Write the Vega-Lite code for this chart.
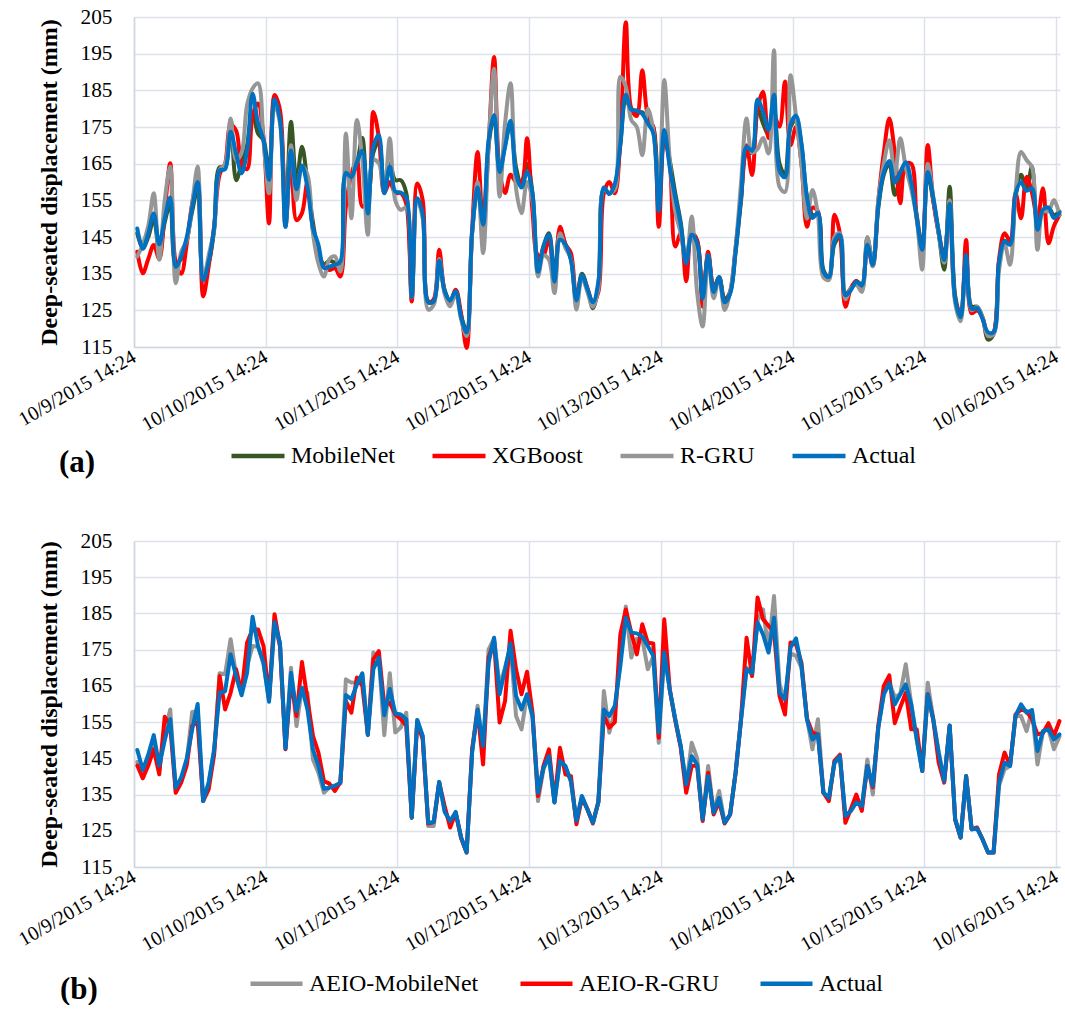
{
"$schema": "https://vega.github.io/schema/vega-lite/v6.json",
"background": "white",
"padding": {"left": 14, "top": 6, "right": 3, "bottom": 0},
"spacing": 52,
"config": {
  "font": "Liberation Serif",
  "view": {"stroke": null},
  "axis": {"labelFont": "Liberation Serif", "titleFont": "Liberation Serif", "labelColor": "black", "titleColor": "black", "gridColor": "#DCE1EA", "gridWidth": 1.5, "domainColor": "#CFD6E0", "domainWidth": 1.5, "ticks": false},
  "legend": {"labelFont": "Liberation Serif", "titleFont": "Liberation Serif", "labelColor": "black", "titleColor": "black", "labelLimit": 400}
},
"resolve": {"scale": {"color": "independent"}, "legend": {"color": "independent"}},
"datasets": {"d": [
{"t":"2015-10-09T15:00","Actual":147.3,"MobileNet":146,"XGBoost":141,"R-GRU":139.7,"AEIO-MobileNet":144,"AEIO-R-GRU":143},
{"t":"2015-10-09T16:00","Actual":141.8,"MobileNet":142,"XGBoost":135.1,"R-GRU":143,"AEIO-MobileNet":139.5,"AEIO-R-GRU":139.5},
{"t":"2015-10-09T17:00","Actual":146,"MobileNet":145,"XGBoost":139,"R-GRU":148,"AEIO-MobileNet":144,"AEIO-R-GRU":143},
{"t":"2015-10-09T18:00","Actual":151.4,"MobileNet":150,"XGBoost":142.8,"R-GRU":156.9,"AEIO-MobileNet":149,"AEIO-R-GRU":147.5},
{"t":"2015-10-09T19:00","Actual":143,"MobileNet":141,"XGBoost":139,"R-GRU":138.8,"AEIO-MobileNet":142,"AEIO-R-GRU":140.6},
{"t":"2015-10-09T20:00","Actual":150,"MobileNet":149,"XGBoost":152,"R-GRU":155,"AEIO-MobileNet":152,"AEIO-R-GRU":156.5},
{"t":"2015-10-09T21:00","Actual":155.8,"MobileNet":154,"XGBoost":165.1,"R-GRU":164.2,"AEIO-MobileNet":158.5,"AEIO-R-GRU":154},
{"t":"2015-10-09T22:00","Actual":136.9,"MobileNet":138,"XGBoost":138,"R-GRU":132.4,"AEIO-MobileNet":136,"AEIO-R-GRU":135.5},
{"t":"2015-10-09T23:00","Actual":139.7,"MobileNet":139,"XGBoost":135,"R-GRU":141,"AEIO-MobileNet":139.5,"AEIO-R-GRU":138.3},
{"t":"2015-10-10T00:00","Actual":144.9,"MobileNet":144,"XGBoost":143,"R-GRU":144,"AEIO-MobileNet":144,"AEIO-R-GRU":143},
{"t":"2015-10-10T01:00","Actual":153,"MobileNet":152,"XGBoost":154.2,"R-GRU":154,"AEIO-MobileNet":157.8,"AEIO-R-GRU":154},
{"t":"2015-10-10T02:00","Actual":160,"MobileNet":158,"XGBoost":160.5,"R-GRU":164.2,"AEIO-MobileNet":158,"AEIO-R-GRU":155},
{"t":"2015-10-10T03:00","Actual":133.2,"MobileNet":135,"XGBoost":128.8,"R-GRU":133.3,"AEIO-MobileNet":133.5,"AEIO-R-GRU":133.2},
{"t":"2015-10-10T04:00","Actual":138.3,"MobileNet":138,"XGBoost":137,"R-GRU":140,"AEIO-MobileNet":138,"AEIO-R-GRU":136.4},
{"t":"2015-10-10T05:00","Actual":147.5,"MobileNet":147,"XGBoost":148,"R-GRU":147,"AEIO-MobileNet":147,"AEIO-R-GRU":146},
{"t":"2015-10-10T06:00","Actual":163.1,"MobileNet":164,"XGBoost":162,"R-GRU":163.3,"AEIO-MobileNet":168.5,"AEIO-R-GRU":167.7},
{"t":"2015-10-10T07:00","Actual":163.5,"MobileNet":164,"XGBoost":165,"R-GRU":165,"AEIO-MobileNet":168.2,"AEIO-R-GRU":158.5},
{"t":"2015-10-10T08:00","Actual":173.7,"MobileNet":177,"XGBoost":175.5,"R-GRU":177.3,"AEIO-MobileNet":177.9,"AEIO-R-GRU":163.1},
{"t":"2015-10-10T09:00","Actual":167.7,"MobileNet":160.5,"XGBoost":174,"R-GRU":166,"AEIO-MobileNet":168,"AEIO-R-GRU":169.6},
{"t":"2015-10-10T10:00","Actual":162.4,"MobileNet":165,"XGBoost":165,"R-GRU":168,"AEIO-MobileNet":163,"AEIO-R-GRU":163},
{"t":"2015-10-10T11:00","Actual":168.6,"MobileNet":170,"XGBoost":163.5,"R-GRU":181,"AEIO-MobileNet":170.5,"AEIO-R-GRU":176.9},
{"t":"2015-10-10T12:00","Actual":184.1,"MobileNet":179,"XGBoost":178,"R-GRU":185.5,"AEIO-MobileNet":176,"AEIO-R-GRU":180.6},
{"t":"2015-10-10T13:00","Actual":176,"MobileNet":173.2,"XGBoost":181.4,"R-GRU":186.9,"AEIO-MobileNet":175.8,"AEIO-R-GRU":180.6},
{"t":"2015-10-10T14:00","Actual":171.4,"MobileNet":171.4,"XGBoost":172,"R-GRU":171,"AEIO-MobileNet":171,"AEIO-R-GRU":176},
{"t":"2015-10-10T15:00","Actual":160.6,"MobileNet":162,"XGBoost":148.7,"R-GRU":156.9,"AEIO-MobileNet":161,"AEIO-R-GRU":161.3},
{"t":"2015-10-10T16:00","Actual":182.6,"MobileNet":181,"XGBoost":183.7,"R-GRU":181,"AEIO-MobileNet":182,"AEIO-R-GRU":184.8},
{"t":"2015-10-10T17:00","Actual":176.9,"MobileNet":177,"XGBoost":179.6,"R-GRU":176,"AEIO-MobileNet":176,"AEIO-R-GRU":176},
{"t":"2015-10-10T18:00","Actual":147.7,"MobileNet":150,"XGBoost":148,"R-GRU":148,"AEIO-MobileNet":148,"AEIO-R-GRU":147.5},
{"t":"2015-10-10T19:00","Actual":168.6,"MobileNet":176.4,"XGBoost":167,"R-GRU":170,"AEIO-MobileNet":170,"AEIO-R-GRU":166.8},
{"t":"2015-10-10T20:00","Actual":158,"MobileNet":160,"XGBoost":149.6,"R-GRU":155.1,"AEIO-MobileNet":153.9,"AEIO-R-GRU":156.7},
{"t":"2015-10-10T21:00","Actual":164.5,"MobileNet":169.6,"XGBoost":151.5,"R-GRU":164.2,"AEIO-MobileNet":164.5,"AEIO-R-GRU":171.6},
{"t":"2015-10-10T22:00","Actual":158.5,"MobileNet":160,"XGBoost":160,"R-GRU":162,"AEIO-MobileNet":163.1,"AEIO-R-GRU":161.3},
{"t":"2015-10-10T23:00","Actual":147.5,"MobileNet":149,"XGBoost":147,"R-GRU":146,"AEIO-MobileNet":144.7,"AEIO-R-GRU":151.2},
{"t":"2015-10-11T00:00","Actual":142.9,"MobileNet":141,"XGBoost":140.6,"R-GRU":137.8,"AEIO-MobileNet":141,"AEIO-R-GRU":146.6},
{"t":"2015-10-11T01:00","Actual":136.6,"MobileNet":137.5,"XGBoost":137,"R-GRU":134.2,"AEIO-MobileNet":135.5,"AEIO-R-GRU":138.7},
{"t":"2015-10-11T02:00","Actual":136.9,"MobileNet":138.5,"XGBoost":136,"R-GRU":139,"AEIO-MobileNet":137,"AEIO-R-GRU":138},
{"t":"2015-10-11T03:00","Actual":137.4,"MobileNet":138,"XGBoost":136.5,"R-GRU":139.7,"AEIO-MobileNet":137.5,"AEIO-R-GRU":136},
{"t":"2015-10-11T04:00","Actual":138.3,"MobileNet":137.5,"XGBoost":134.2,"R-GRU":135.6,"AEIO-MobileNet":138,"AEIO-R-GRU":138.5},
{"t":"2015-10-11T05:00","Actual":162.5,"MobileNet":162,"XGBoost":153.3,"R-GRU":173.2,"AEIO-MobileNet":166.8,"AEIO-R-GRU":160.8},
{"t":"2015-10-11T06:00","Actual":161.3,"MobileNet":162,"XGBoost":162,"R-GRU":150.1,"AEIO-MobileNet":165.9,"AEIO-R-GRU":157.6},
{"t":"2015-10-11T07:00","Actual":165.4,"MobileNet":165,"XGBoost":166,"R-GRU":176.9,"AEIO-MobileNet":166,"AEIO-R-GRU":167.3},
{"t":"2015-10-11T08:00","Actual":168.5,"MobileNet":172,"XGBoost":153.3,"R-GRU":166,"AEIO-MobileNet":168,"AEIO-R-GRU":165},
{"t":"2015-10-11T09:00","Actual":151.4,"MobileNet":153,"XGBoost":155,"R-GRU":145.6,"AEIO-MobileNet":151.6,"AEIO-R-GRU":151.6},
{"t":"2015-10-11T10:00","Actual":169.6,"MobileNet":168,"XGBoost":179.1,"R-GRU":166,"AEIO-MobileNet":174.2,"AEIO-R-GRU":172.3},
{"t":"2015-10-11T11:00","Actual":172.8,"MobileNet":171,"XGBoost":172.3,"R-GRU":165.1,"AEIO-MobileNet":173,"AEIO-R-GRU":174.6},
{"t":"2015-10-11T12:00","Actual":156.9,"MobileNet":158,"XGBoost":157,"R-GRU":157,"AEIO-MobileNet":151.4,"AEIO-R-GRU":159.5},
{"t":"2015-10-11T13:00","Actual":164.2,"MobileNet":165,"XGBoost":160,"R-GRU":171.9,"AEIO-MobileNet":168.5,"AEIO-R-GRU":160.4},
{"t":"2015-10-11T14:00","Actual":157.4,"MobileNet":160.5,"XGBoost":157,"R-GRU":155,"AEIO-MobileNet":152.1,"AEIO-R-GRU":157.1},
{"t":"2015-10-11T15:00","Actual":157.1,"MobileNet":160.5,"XGBoost":157,"R-GRU":152.4,"AEIO-MobileNet":153.5,"AEIO-R-GRU":155.8},
{"t":"2015-10-11T16:00","Actual":155.8,"MobileNet":157,"XGBoost":154,"R-GRU":153,"AEIO-MobileNet":157.6,"AEIO-R-GRU":154},
{"t":"2015-10-11T17:00","Actual":128.6,"MobileNet":129.5,"XGBoost":127.4,"R-GRU":128.5,"AEIO-MobileNet":128.6,"AEIO-R-GRU":128.6},
{"t":"2015-10-11T18:00","Actual":155.6,"MobileNet":155,"XGBoost":159.6,"R-GRU":155,"AEIO-MobileNet":155.6,"AEIO-R-GRU":154.9},
{"t":"2015-10-11T19:00","Actual":151.2,"MobileNet":151,"XGBoost":155,"R-GRU":150,"AEIO-MobileNet":151,"AEIO-R-GRU":150.2},
{"t":"2015-10-11T20:00","Actual":127.2,"MobileNet":127.5,"XGBoost":127.1,"R-GRU":125.2,"AEIO-MobileNet":126.3,"AEIO-R-GRU":127},
{"t":"2015-10-11T21:00","Actual":127.4,"MobileNet":127.5,"XGBoost":128,"R-GRU":126.5,"AEIO-MobileNet":126.3,"AEIO-R-GRU":127.4},
{"t":"2015-10-11T22:00","Actual":138.5,"MobileNet":138,"XGBoost":141.5,"R-GRU":139,"AEIO-MobileNet":138.5,"AEIO-R-GRU":138.3},
{"t":"2015-10-11T23:00","Actual":130.2,"MobileNet":130.5,"XGBoost":130,"R-GRU":129.5,"AEIO-MobileNet":130.5,"AEIO-R-GRU":131.8},
{"t":"2015-10-12T00:00","Actual":127.7,"MobileNet":127.5,"XGBoost":127,"R-GRU":126.1,"AEIO-MobileNet":127.5,"AEIO-R-GRU":125.9},
{"t":"2015-10-12T01:00","Actual":130.2,"MobileNet":130.5,"XGBoost":130.6,"R-GRU":129.5,"AEIO-MobileNet":130,"AEIO-R-GRU":130},
{"t":"2015-10-12T02:00","Actual":123.1,"MobileNet":123.5,"XGBoost":124,"R-GRU":122.5,"AEIO-MobileNet":123,"AEIO-R-GRU":123},
{"t":"2015-10-12T03:00","Actual":119,"MobileNet":119.5,"XGBoost":114.7,"R-GRU":118,"AEIO-MobileNet":119,"AEIO-R-GRU":119},
{"t":"2015-10-12T04:00","Actual":146.6,"MobileNet":146,"XGBoost":147,"R-GRU":146,"AEIO-MobileNet":147,"AEIO-R-GRU":147.5},
{"t":"2015-10-12T05:00","Actual":158.5,"MobileNet":158,"XGBoost":168.2,"R-GRU":160,"AEIO-MobileNet":159.5,"AEIO-R-GRU":158.1},
{"t":"2015-10-12T06:00","Actual":148.4,"MobileNet":149,"XGBoost":148,"R-GRU":140.6,"AEIO-MobileNet":148,"AEIO-R-GRU":143.3},
{"t":"2015-10-12T07:00","Actual":171.4,"MobileNet":170,"XGBoost":170,"R-GRU":170,"AEIO-MobileNet":175.1,"AEIO-R-GRU":172.8},
{"t":"2015-10-12T08:00","Actual":178.3,"MobileNet":178,"XGBoost":194.1,"R-GRU":190.9,"AEIO-MobileNet":178,"AEIO-R-GRU":177.4},
{"t":"2015-10-12T09:00","Actual":162.7,"MobileNet":163,"XGBoost":163,"R-GRU":156,"AEIO-MobileNet":165,"AEIO-R-GRU":154.9},
{"t":"2015-10-12T10:00","Actual":169.6,"MobileNet":170,"XGBoost":157,"R-GRU":176,"AEIO-MobileNet":170,"AEIO-R-GRU":160.8},
{"t":"2015-10-12T11:00","Actual":176.7,"MobileNet":176,"XGBoost":162,"R-GRU":186.9,"AEIO-MobileNet":176,"AEIO-R-GRU":180.2},
{"t":"2015-10-12T12:00","Actual":162.2,"MobileNet":164,"XGBoost":160,"R-GRU":158.3,"AEIO-MobileNet":156.7,"AEIO-R-GRU":169.6},
{"t":"2015-10-12T13:00","Actual":158.5,"MobileNet":159,"XGBoost":160,"R-GRU":151.5,"AEIO-MobileNet":153,"AEIO-R-GRU":162.7},
{"t":"2015-10-12T14:00","Actual":162.7,"MobileNet":165,"XGBoost":171.9,"R-GRU":160,"AEIO-MobileNet":162.5,"AEIO-R-GRU":168.9},
{"t":"2015-10-12T15:00","Actual":156.7,"MobileNet":157,"XGBoost":152,"R-GRU":155,"AEIO-MobileNet":156.5,"AEIO-R-GRU":157.6},
{"t":"2015-10-12T16:00","Actual":135.5,"MobileNet":137,"XGBoost":140,"R-GRU":134.2,"AEIO-MobileNet":133.2,"AEIO-R-GRU":134.6},
{"t":"2015-10-12T17:00","Actual":142.4,"MobileNet":142.5,"XGBoost":140,"R-GRU":140,"AEIO-MobileNet":142,"AEIO-R-GRU":142.9},
{"t":"2015-10-12T18:00","Actual":145.6,"MobileNet":146,"XGBoost":145,"R-GRU":138.8,"AEIO-MobileNet":145.5,"AEIO-R-GRU":147.5},
{"t":"2015-10-12T19:00","Actual":132.8,"MobileNet":134,"XGBoost":131,"R-GRU":129.7,"AEIO-MobileNet":132.8,"AEIO-R-GRU":133},
{"t":"2015-10-12T20:00","Actual":144.3,"MobileNet":147,"XGBoost":147.8,"R-GRU":146,"AEIO-MobileNet":144.5,"AEIO-R-GRU":147.9},
{"t":"2015-10-12T21:00","Actual":142.9,"MobileNet":143,"XGBoost":143,"R-GRU":142,"AEIO-MobileNet":142.5,"AEIO-R-GRU":140.6},
{"t":"2015-10-12T22:00","Actual":138.7,"MobileNet":139,"XGBoost":140.6,"R-GRU":139,"AEIO-MobileNet":138.5,"AEIO-R-GRU":140.1},
{"t":"2015-10-12T23:00","Actual":127.7,"MobileNet":128,"XGBoost":128,"R-GRU":125.2,"AEIO-MobileNet":127.5,"AEIO-R-GRU":126.8},
{"t":"2015-10-13T00:00","Actual":134.6,"MobileNet":135,"XGBoost":134,"R-GRU":134,"AEIO-MobileNet":134.5,"AEIO-R-GRU":134},
{"t":"2015-10-13T01:00","Actual":130.9,"MobileNet":131,"XGBoost":131,"R-GRU":130,"AEIO-MobileNet":131,"AEIO-R-GRU":131},
{"t":"2015-10-13T02:00","Actual":127.2,"MobileNet":125.6,"XGBoost":127,"R-GRU":126,"AEIO-MobileNet":127.3,"AEIO-R-GRU":127},
{"t":"2015-10-13T03:00","Actual":132.8,"MobileNet":132,"XGBoost":130,"R-GRU":131,"AEIO-MobileNet":133,"AEIO-R-GRU":133},
{"t":"2015-10-13T04:00","Actual":158.5,"MobileNet":158,"XGBoost":157,"R-GRU":158,"AEIO-MobileNet":163.6,"AEIO-R-GRU":156.7},
{"t":"2015-10-13T05:00","Actual":156.7,"MobileNet":157,"XGBoost":160,"R-GRU":157,"AEIO-MobileNet":152.1,"AEIO-R-GRU":153.5},
{"t":"2015-10-13T06:00","Actual":159.5,"MobileNet":159,"XGBoost":156.9,"R-GRU":158,"AEIO-MobileNet":158,"AEIO-R-GRU":155},
{"t":"2015-10-13T07:00","Actual":170.5,"MobileNet":170,"XGBoost":172,"R-GRU":188.7,"AEIO-MobileNet":172,"AEIO-R-GRU":179.2},
{"t":"2015-10-13T08:00","Actual":183.8,"MobileNet":182,"XGBoost":203.6,"R-GRU":186,"AEIO-MobileNet":186.9,"AEIO-R-GRU":186.1},
{"t":"2015-10-13T09:00","Actual":179.7,"MobileNet":180,"XGBoost":180,"R-GRU":176.9,"AEIO-MobileNet":172.8,"AEIO-R-GRU":179.7},
{"t":"2015-10-13T10:00","Actual":179.5,"MobileNet":179,"XGBoost":178,"R-GRU":175,"AEIO-MobileNet":178,"AEIO-R-GRU":173.7},
{"t":"2015-10-13T11:00","Actual":178.6,"MobileNet":179,"XGBoost":190.5,"R-GRU":167.3,"AEIO-MobileNet":178,"AEIO-R-GRU":182},
{"t":"2015-10-13T12:00","Actual":176,"MobileNet":177,"XGBoost":178,"R-GRU":180,"AEIO-MobileNet":169.6,"AEIO-R-GRU":176.9},
{"t":"2015-10-13T13:00","Actual":173.3,"MobileNet":175,"XGBoost":175,"R-GRU":174,"AEIO-MobileNet":173,"AEIO-R-GRU":176.7},
{"t":"2015-10-13T14:00","Actual":152.1,"MobileNet":155,"XGBoost":147.8,"R-GRU":157,"AEIO-MobileNet":149.3,"AEIO-R-GRU":150.7},
{"t":"2015-10-13T15:00","Actual":174.2,"MobileNet":173,"XGBoost":172,"R-GRU":187.8,"AEIO-MobileNet":174,"AEIO-R-GRU":183.4},
{"t":"2015-10-13T16:00","Actual":164,"MobileNet":166,"XGBoost":165,"R-GRU":166,"AEIO-MobileNet":164,"AEIO-R-GRU":164},
{"t":"2015-10-13T17:00","Actual":155.8,"MobileNet":157,"XGBoost":142.4,"R-GRU":152,"AEIO-MobileNet":155.8,"AEIO-R-GRU":155.5},
{"t":"2015-10-13T18:00","Actual":148.4,"MobileNet":149,"XGBoost":146,"R-GRU":146,"AEIO-MobileNet":148.4,"AEIO-R-GRU":148},
{"t":"2015-10-13T19:00","Actual":137.8,"MobileNet":138,"XGBoost":132.9,"R-GRU":138,"AEIO-MobileNet":137.5,"AEIO-R-GRU":135.5},
{"t":"2015-10-13T20:00","Actual":145.6,"MobileNet":146,"XGBoost":146,"R-GRU":150.6,"AEIO-MobileNet":149.3,"AEIO-R-GRU":142.9},
{"t":"2015-10-13T21:00","Actual":143.3,"MobileNet":144,"XGBoost":144,"R-GRU":129.7,"AEIO-MobileNet":145,"AEIO-R-GRU":143},
{"t":"2015-10-13T22:00","Actual":128.2,"MobileNet":129,"XGBoost":126,"R-GRU":120.6,"AEIO-MobileNet":128,"AEIO-R-GRU":127.7},
{"t":"2015-10-13T23:00","Actual":140.1,"MobileNet":140,"XGBoost":141,"R-GRU":140,"AEIO-MobileNet":142.9,"AEIO-R-GRU":141},
{"t":"2015-10-14T00:00","Actual":130,"MobileNet":131,"XGBoost":131,"R-GRU":128.3,"AEIO-MobileNet":130,"AEIO-R-GRU":129.5},
{"t":"2015-10-14T01:00","Actual":134.1,"MobileNet":134,"XGBoost":134,"R-GRU":134,"AEIO-MobileNet":136,"AEIO-R-GRU":133},
{"t":"2015-10-14T02:00","Actual":127.2,"MobileNet":128,"XGBoost":127,"R-GRU":125.1,"AEIO-MobileNet":127.2,"AEIO-R-GRU":127},
{"t":"2015-10-14T03:00","Actual":129.5,"MobileNet":130,"XGBoost":130,"R-GRU":130,"AEIO-MobileNet":129.5,"AEIO-R-GRU":129.5},
{"t":"2015-10-14T04:00","Actual":141,"MobileNet":141,"XGBoost":142,"R-GRU":142,"AEIO-MobileNet":141,"AEIO-R-GRU":141},
{"t":"2015-10-14T05:00","Actual":155.8,"MobileNet":155,"XGBoost":156,"R-GRU":160,"AEIO-MobileNet":156,"AEIO-R-GRU":156},
{"t":"2015-10-14T06:00","Actual":169.6,"MobileNet":168,"XGBoost":170,"R-GRU":177.3,"AEIO-MobileNet":170,"AEIO-R-GRU":178.3},
{"t":"2015-10-14T07:00","Actual":168.5,"MobileNet":168,"XGBoost":161.9,"R-GRU":168,"AEIO-MobileNet":168,"AEIO-R-GRU":167.7},
{"t":"2015-10-14T08:00","Actual":182.5,"MobileNet":180,"XGBoost":180,"R-GRU":169,"AEIO-MobileNet":183,"AEIO-R-GRU":189.4},
{"t":"2015-10-14T09:00","Actual":179.2,"MobileNet":176,"XGBoost":184.6,"R-GRU":172,"AEIO-MobileNet":186.1,"AEIO-R-GRU":183.4},
{"t":"2015-10-14T10:00","Actual":174.2,"MobileNet":173,"XGBoost":172,"R-GRU":167.8,"AEIO-MobileNet":175,"AEIO-R-GRU":181.6},
{"t":"2015-10-14T11:00","Actual":183.8,"MobileNet":180,"XGBoost":178,"R-GRU":195.9,"AEIO-MobileNet":189.8,"AEIO-R-GRU":180},
{"t":"2015-10-14T12:00","Actual":163.1,"MobileNet":165,"XGBoost":175.1,"R-GRU":158.7,"AEIO-MobileNet":165.5,"AEIO-R-GRU":162.2},
{"t":"2015-10-14T13:00","Actual":161.3,"MobileNet":162,"XGBoost":187.4,"R-GRU":157.3,"AEIO-MobileNet":161,"AEIO-R-GRU":157.1},
{"t":"2015-10-14T14:00","Actual":175.6,"MobileNet":175,"XGBoost":170,"R-GRU":189.1,"AEIO-MobileNet":174,"AEIO-R-GRU":177},
{"t":"2015-10-14T15:00","Actual":178.1,"MobileNet":177,"XGBoost":175,"R-GRU":178,"AEIO-MobileNet":173.3,"AEIO-R-GRU":176.5},
{"t":"2015-10-14T16:00","Actual":170.5,"MobileNet":170,"XGBoost":165,"R-GRU":165,"AEIO-MobileNet":170,"AEIO-R-GRU":171.4},
{"t":"2015-10-14T17:00","Actual":155.8,"MobileNet":156,"XGBoost":147.8,"R-GRU":150,"AEIO-MobileNet":156,"AEIO-R-GRU":156},
{"t":"2015-10-14T18:00","Actual":150.2,"MobileNet":151,"XGBoost":153,"R-GRU":157.8,"AEIO-MobileNet":147.5,"AEIO-R-GRU":152.1},
{"t":"2015-10-14T19:00","Actual":151.6,"MobileNet":151,"XGBoost":152,"R-GRU":151,"AEIO-MobileNet":155.8,"AEIO-R-GRU":151.6},
{"t":"2015-10-14T20:00","Actual":135.5,"MobileNet":136,"XGBoost":135,"R-GRU":134,"AEIO-MobileNet":135.5,"AEIO-R-GRU":135.5},
{"t":"2015-10-14T21:00","Actual":134.1,"MobileNet":134,"XGBoost":134,"R-GRU":133.3,"AEIO-MobileNet":134,"AEIO-R-GRU":133.2},
{"t":"2015-10-14T22:00","Actual":143.8,"MobileNet":143,"XGBoost":151.1,"R-GRU":145,"AEIO-MobileNet":143.5,"AEIO-R-GRU":144.3},
{"t":"2015-10-14T23:00","Actual":145.6,"MobileNet":145,"XGBoost":146,"R-GRU":146,"AEIO-MobileNet":145.5,"AEIO-R-GRU":146},
{"t":"2015-10-15T00:00","Actual":129.1,"MobileNet":129.5,"XGBoost":126,"R-GRU":128,"AEIO-MobileNet":129,"AEIO-R-GRU":127.2},
{"t":"2015-10-15T01:00","Actual":130.5,"MobileNet":131,"XGBoost":131,"R-GRU":131,"AEIO-MobileNet":130.5,"AEIO-R-GRU":131},
{"t":"2015-10-15T02:00","Actual":132.8,"MobileNet":133,"XGBoost":133,"R-GRU":132,"AEIO-MobileNet":133,"AEIO-R-GRU":135},
{"t":"2015-10-15T03:00","Actual":131.8,"MobileNet":132,"XGBoost":130.5,"R-GRU":130,"AEIO-MobileNet":131.5,"AEIO-R-GRU":130.5},
{"t":"2015-10-15T04:00","Actual":142.9,"MobileNet":144.7,"XGBoost":143,"R-GRU":145,"AEIO-MobileNet":144.7,"AEIO-R-GRU":142.9},
{"t":"2015-10-15T05:00","Actual":137.4,"MobileNet":138,"XGBoost":137,"R-GRU":137,"AEIO-MobileNet":135,"AEIO-R-GRU":137},
{"t":"2015-10-15T06:00","Actual":153.5,"MobileNet":153,"XGBoost":155,"R-GRU":155,"AEIO-MobileNet":153.5,"AEIO-R-GRU":154},
{"t":"2015-10-15T07:00","Actual":162.7,"MobileNet":162,"XGBoost":168,"R-GRU":165,"AEIO-MobileNet":162.7,"AEIO-R-GRU":165},
{"t":"2015-10-15T08:00","Actual":165.7,"MobileNet":165,"XGBoost":177.3,"R-GRU":171.4,"AEIO-MobileNet":165.7,"AEIO-R-GRU":167.9},
{"t":"2015-10-15T09:00","Actual":159.9,"MobileNet":156.5,"XGBoost":168,"R-GRU":162,"AEIO-MobileNet":162,"AEIO-R-GRU":154.7},
{"t":"2015-10-15T10:00","Actual":162.7,"MobileNet":161,"XGBoost":154.2,"R-GRU":171.9,"AEIO-MobileNet":162.7,"AEIO-R-GRU":159.1},
{"t":"2015-10-15T11:00","Actual":165.4,"MobileNet":164,"XGBoost":165,"R-GRU":164,"AEIO-MobileNet":171,"AEIO-R-GRU":163.1},
{"t":"2015-10-15T12:00","Actual":159.9,"MobileNet":159,"XGBoost":165,"R-GRU":158,"AEIO-MobileNet":160,"AEIO-R-GRU":153},
{"t":"2015-10-15T13:00","Actual":150.2,"MobileNet":151,"XGBoost":150,"R-GRU":150,"AEIO-MobileNet":150.2,"AEIO-R-GRU":153},
{"t":"2015-10-15T14:00","Actual":141.5,"MobileNet":142,"XGBoost":142,"R-GRU":136.1,"AEIO-MobileNet":141.5,"AEIO-R-GRU":141.5},
{"t":"2015-10-15T15:00","Actual":162.7,"MobileNet":162,"XGBoost":170.1,"R-GRU":165,"AEIO-MobileNet":165.9,"AEIO-R-GRU":162.7},
{"t":"2015-10-15T16:00","Actual":155.8,"MobileNet":155,"XGBoost":155,"R-GRU":156,"AEIO-MobileNet":156,"AEIO-R-GRU":155.8},
{"t":"2015-10-15T17:00","Actual":146.6,"MobileNet":146,"XGBoost":146,"R-GRU":146,"AEIO-MobileNet":146.6,"AEIO-R-GRU":143.8},
{"t":"2015-10-15T18:00","Actual":138.7,"MobileNet":136.1,"XGBoost":140,"R-GRU":138,"AEIO-MobileNet":138.7,"AEIO-R-GRU":138.3},
{"t":"2015-10-15T19:00","Actual":154.1,"MobileNet":158.7,"XGBoost":154,"R-GRU":155,"AEIO-MobileNet":154,"AEIO-R-GRU":154},
{"t":"2015-10-15T20:00","Actual":128.2,"MobileNet":129,"XGBoost":128,"R-GRU":127,"AEIO-MobileNet":128.2,"AEIO-R-GRU":128},
{"t":"2015-10-15T21:00","Actual":123.1,"MobileNet":123.5,"XGBoost":124,"R-GRU":122,"AEIO-MobileNet":123.1,"AEIO-R-GRU":123.1},
{"t":"2015-10-15T22:00","Actual":140.1,"MobileNet":139,"XGBoost":144.2,"R-GRU":139,"AEIO-MobileNet":140,"AEIO-R-GRU":140.1},
{"t":"2015-10-15T23:00","Actual":125.4,"MobileNet":126,"XGBoost":124.2,"R-GRU":125,"AEIO-MobileNet":125.4,"AEIO-R-GRU":125.4},
{"t":"2015-10-16T00:00","Actual":125.6,"MobileNet":126,"XGBoost":125,"R-GRU":126,"AEIO-MobileNet":125.6,"AEIO-R-GRU":125.9},
{"t":"2015-10-16T01:00","Actual":122.6,"MobileNet":123,"XGBoost":123,"R-GRU":123,"AEIO-MobileNet":122.6,"AEIO-R-GRU":122.6},
{"t":"2015-10-16T02:00","Actual":119,"MobileNet":117,"XGBoost":118,"R-GRU":118,"AEIO-MobileNet":119,"AEIO-R-GRU":119},
{"t":"2015-10-16T03:00","Actual":119,"MobileNet":118.5,"XGBoost":119,"R-GRU":118.5,"AEIO-MobileNet":119,"AEIO-R-GRU":119},
{"t":"2015-10-16T04:00","Actual":138.3,"MobileNet":138,"XGBoost":139,"R-GRU":136,"AEIO-MobileNet":137.5,"AEIO-R-GRU":140.6},
{"t":"2015-10-16T05:00","Actual":143.8,"MobileNet":144,"XGBoost":146,"R-GRU":143,"AEIO-MobileNet":142,"AEIO-R-GRU":146.6},
{"t":"2015-10-16T06:00","Actual":142.9,"MobileNet":143,"XGBoost":144,"R-GRU":137.4,"AEIO-MobileNet":142.9,"AEIO-R-GRU":143},
{"t":"2015-10-16T07:00","Actual":156.7,"MobileNet":156,"XGBoost":157,"R-GRU":157,"AEIO-MobileNet":156.7,"AEIO-R-GRU":157.1},
{"t":"2015-10-16T08:00","Actual":159.9,"MobileNet":162,"XGBoost":150.1,"R-GRU":168.2,"AEIO-MobileNet":156.7,"AEIO-R-GRU":158.5},
{"t":"2015-10-16T09:00","Actual":157.6,"MobileNet":158,"XGBoost":161.4,"R-GRU":166,"AEIO-MobileNet":152.5,"AEIO-R-GRU":158},
{"t":"2015-10-16T10:00","Actual":158.3,"MobileNet":164.2,"XGBoost":157,"R-GRU":164,"AEIO-MobileNet":158.3,"AEIO-R-GRU":155.8},
{"t":"2015-10-16T11:00","Actual":147,"MobileNet":148,"XGBoost":150,"R-GRU":141.5,"AEIO-MobileNet":143.3,"AEIO-R-GRU":151.6},
{"t":"2015-10-16T12:00","Actual":152.5,"MobileNet":152,"XGBoost":158.3,"R-GRU":152,"AEIO-MobileNet":152.5,"AEIO-R-GRU":152},
{"t":"2015-10-16T13:00","Actual":153,"MobileNet":153,"XGBoost":143.3,"R-GRU":152,"AEIO-MobileNet":153,"AEIO-R-GRU":154.7},
{"t":"2015-10-16T14:00","Actual":150.2,"MobileNet":151,"XGBoost":148,"R-GRU":155.1,"AEIO-MobileNet":147.5,"AEIO-R-GRU":151.2},
{"t":"2015-10-16T15:00","Actual":151.6,"MobileNet":152,"XGBoost":151,"R-GRU":151,"AEIO-MobileNet":151,"AEIO-R-GRU":155.3}
]},
"vconcat": [
{
  "width": 926, "height": 330,
  "data": {"name": "d"},
  "transform": [{"fold": ["MobileNet", "XGBoost", "R-GRU", "Actual"], "as": ["series", "value"]}],
  "mark": {"type": "line", "interpolate": "catmull-rom", "strokeWidth": 4, "strokeJoin": "round", "strokeCap": "round"},
  "encoding": {
    "x": {"field": "t", "type": "temporal",
      "scale": {"domain": [{"year": 2015, "month": 10, "date": 9, "hours": 14, "minutes": 24}, {"year": 2015, "month": 10, "date": 16, "hours": 15, "minutes": 6}]},
      "axis": {"title": null, "grid": true, "format": "%-m/%-d/%Y %H:%M", "labelAngle": -30, "labelAlign": "right", "labelBaseline": "middle", "labelFontSize": 20, "labelPadding": 8, "labelOverlap": false, "labelFlush": false, "labelBound": false,
        "values": [
          {"year": 2015, "month": 10, "date": 9, "hours": 14, "minutes": 24},
          {"year": 2015, "month": 10, "date": 10, "hours": 14, "minutes": 24},
          {"year": 2015, "month": 10, "date": 11, "hours": 14, "minutes": 24},
          {"year": 2015, "month": 10, "date": 12, "hours": 14, "minutes": 24},
          {"year": 2015, "month": 10, "date": 13, "hours": 14, "minutes": 24},
          {"year": 2015, "month": 10, "date": 14, "hours": 14, "minutes": 24},
          {"year": 2015, "month": 10, "date": 15, "hours": 14, "minutes": 24},
          {"year": 2015, "month": 10, "date": 16, "hours": 14, "minutes": 24}]}},
    "y": {"field": "value", "type": "quantitative",
      "scale": {"domain": [115, 205], "nice": false, "zero": false},
      "axis": {"title": "Deep-seated displacement (mm)", "titleFontSize": 24, "titleFontWeight": "bold", "titlePadding": 19, "labelFontSize": 21.3, "labelPadding": 22, "grid": true,
        "values": [115, 125, 135, 145, 155, 165, 175, 185, 195, 205]}},
    "color": {"field": "series", "type": "nominal",
      "scale": {"domain": ["MobileNet", "XGBoost", "R-GRU", "Actual"], "range": ["#375623", "#FF0000", "#969696", "#0070C0"]},
      "legend": {"orient": "none", "legendX": -75, "legendY": 410, "direction": "horizontal", "title": "(a)", "titleOrient": "left", "titleAnchor": "middle", "titleBaseline": "top", "titleFontSize": 31, "titleFontWeight": "bold", "titlePadding": 133, "labelFontSize": 24, "symbolType": "stroke", "symbolSize": 2809, "symbolStrokeWidth": 4.5, "labelOffset": 4, "columnPadding": 28}}
  }
},
{
  "width": 926, "height": 326,
  "data": {"name": "d"},
  "transform": [{"fold": ["AEIO-MobileNet", "AEIO-R-GRU", "Actual"], "as": ["series", "value"]}],
  "mark": {"type": "line", "interpolate": "linear", "strokeWidth": 4, "strokeJoin": "round", "strokeCap": "round"},
  "encoding": {
    "x": {"field": "t", "type": "temporal",
      "scale": {"domain": [{"year": 2015, "month": 10, "date": 9, "hours": 14, "minutes": 24}, {"year": 2015, "month": 10, "date": 16, "hours": 15, "minutes": 6}]},
      "axis": {"title": null, "grid": true, "format": "%-m/%-d/%Y %H:%M", "labelAngle": -30, "labelAlign": "right", "labelBaseline": "middle", "labelFontSize": 20, "labelPadding": 8, "labelOverlap": false, "labelFlush": false, "labelBound": false,
        "values": [
          {"year": 2015, "month": 10, "date": 9, "hours": 14, "minutes": 24},
          {"year": 2015, "month": 10, "date": 10, "hours": 14, "minutes": 24},
          {"year": 2015, "month": 10, "date": 11, "hours": 14, "minutes": 24},
          {"year": 2015, "month": 10, "date": 12, "hours": 14, "minutes": 24},
          {"year": 2015, "month": 10, "date": 13, "hours": 14, "minutes": 24},
          {"year": 2015, "month": 10, "date": 14, "hours": 14, "minutes": 24},
          {"year": 2015, "month": 10, "date": 15, "hours": 14, "minutes": 24},
          {"year": 2015, "month": 10, "date": 16, "hours": 14, "minutes": 24}]}},
    "y": {"field": "value", "type": "quantitative",
      "scale": {"domain": [115, 205], "nice": false, "zero": false},
      "axis": {"title": "Deep-seated displacement (mm)", "titleFontSize": 24, "titleFontWeight": "bold", "titlePadding": 19, "labelFontSize": 21.3, "labelPadding": 22, "grid": true,
        "values": [115, 125, 135, 145, 155, 165, 175, 185, 195, 205]}},
    "color": {"field": "series", "type": "nominal",
      "scale": {"domain": ["AEIO-MobileNet", "AEIO-R-GRU", "Actual"], "range": ["#969696", "#FF0000", "#0070C0"]},
      "legend": {"orient": "none", "legendX": -74, "legendY": 414, "direction": "horizontal", "title": "(b)", "titleOrient": "left", "titleAnchor": "middle", "titleBaseline": "top", "titleFontSize": 31, "titleFontWeight": "bold", "titlePadding": 150, "labelFontSize": 24, "symbolType": "stroke", "symbolSize": 2704, "symbolStrokeWidth": 4.5, "labelOffset": 4, "columnPadding": 32}}
  }
}
]
}
